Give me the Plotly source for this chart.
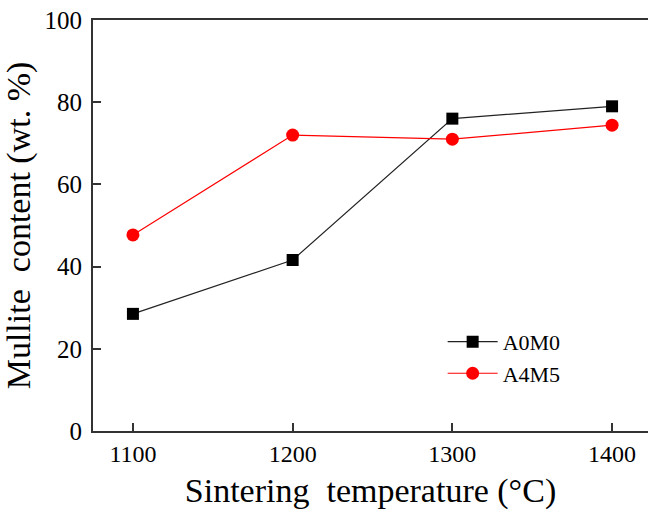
import plotly.graph_objects as go

temps = [1100, 1200, 1300, 1400]
a0m0 = [28.5, 41.6, 76.0, 79.0]
a4m5 = [47.7, 72.0, 71.0, 74.4]
x_ticks = [1100, 1200, 1300, 1400]
y_ticks = [0, 20, 40, 60, 80, 100]

font_family = "Liberation Serif"

fig = go.Figure()
fig.add_trace(go.Scatter(
    x=temps, y=a0m0, name="A0M0", mode="lines+markers",
    line=dict(color="#222222", width=1.2),
    marker=dict(symbol="square", size=12, color="black"),
))
fig.add_trace(go.Scatter(
    x=temps, y=a4m5, name="A4M5", mode="lines+markers",
    line=dict(color="red", width=1.2),
    marker=dict(symbol="circle", size=13, color="red"),
))

fig.update_layout(
    width=648, height=511,
    margin=dict(l=93, r=0, t=20, b=80),
    paper_bgcolor="white", plot_bgcolor="white",
    font=dict(family=font_family, color="black", size=22),
    showlegend=True,
    legend=dict(x=0.63, y=0.268, xanchor="left", yanchor="top",
                bgcolor="rgba(0,0,0,0)", font=dict(size=22, family=font_family),
                itemwidth=50, tracegroupgap=0),
    xaxis=dict(
        range=[1075, 1422.5], tickvals=x_ticks, ticktext=[str(v) for v in x_ticks],
        showline=True, linecolor="#333333", linewidth=2, mirror=True,
        ticks="inside", ticklen=8, tickcolor="#333333", tickwidth=1.5,
        showgrid=False, zeroline=False,
        tickfont=dict(size=24, family=font_family),
        title=dict(text="Sintering  temperature (°C)", font=dict(size=34, family=font_family), standoff=12),
    ),
    yaxis=dict(
        range=[0, 100], tickvals=y_ticks,
        showline=True, linecolor="#333333", linewidth=2, mirror=False,
        ticks="inside", ticklen=8, tickcolor="#333333", tickwidth=1.5,
        showgrid=False, zeroline=False, ticklabelstandoff=4,
        tickfont=dict(size=25, family=font_family),
        title=dict(text="Mullite  content (wt. %)", font=dict(size=34, family=font_family), standoff=6),
    ),
)

fig.write_html("out.html")
